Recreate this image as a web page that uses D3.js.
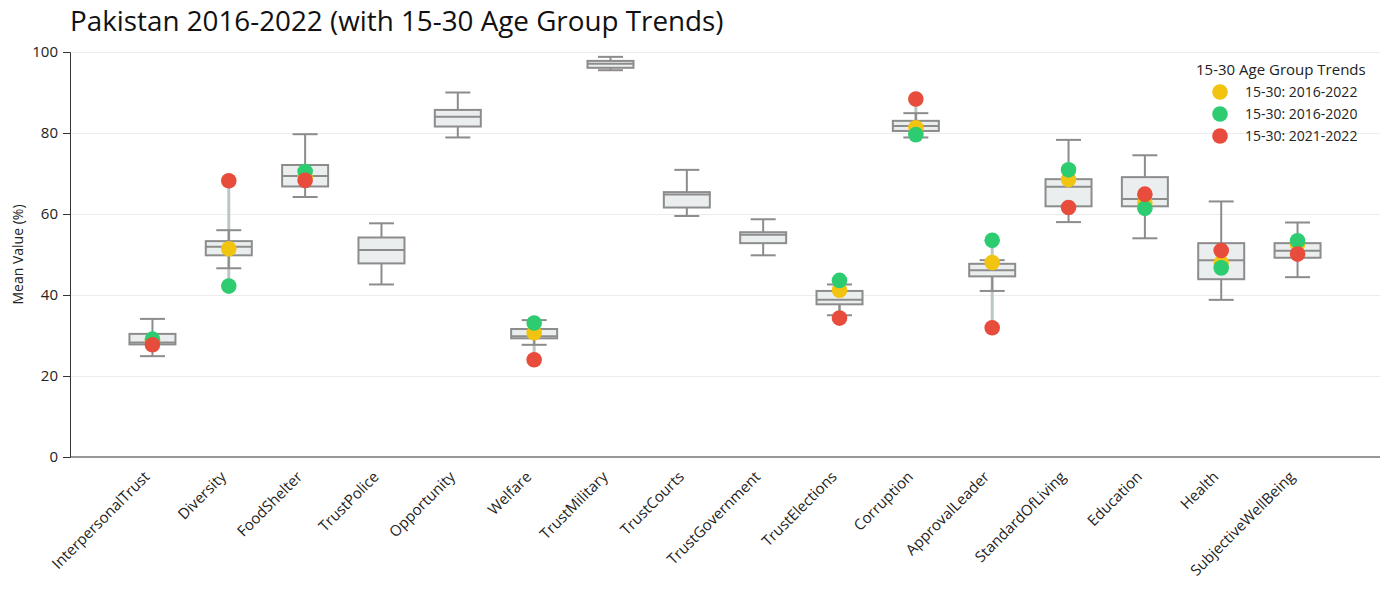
<!DOCTYPE html>
<html>
<head>
<meta charset="utf-8">
<script src="https://cdn.jsdelivr.net/npm/d3@7"></script>
<style>
  body { margin: 0; background: #fff; font-family: "Open Sans", sans-serif; }
  .grid line { stroke: #ececec; }
  .grid .domain { display: none; }
  .y-axis text, .x-axis text { fill: #222; }
</style>
</head>
<body>
<div id="chart"></div>
<script>
// Categories and box statistics
const categories = ["InterpersonalTrust", "Diversity", "FoodShelter", "TrustPolice", "Opportunity",
  "Welfare", "TrustMilitary", "TrustCourts", "TrustGovernment", "TrustElections", "Corruption",
  "ApprovalLeader", "StandardOfLiving", "Education", "Health", "SubjectiveWellBeing"];
const whiskerLow = [24.9, 46.6, 64.2, 42.6, 78.9, 27.7, 95.5, 59.5, 49.8, 35.0, 78.9, 41.0, 58.0, 54.0, 38.8, 44.4];
const q1 =         [27.8, 49.8, 66.8, 47.8, 81.6, 29.3, 96.1, 61.6, 52.8, 37.7, 80.5, 44.6, 61.9, 61.9, 43.9, 49.2];
const median =     [28.3, 51.9, 69.4, 51.1, 84.0, 29.8, 97.1, 64.8, 54.9, 38.8, 81.7, 46.1, 66.7, 63.7, 48.6, 50.9];
const q3 =         [30.4, 53.3, 72.1, 54.2, 85.7, 31.6, 97.8, 65.4, 55.5, 41.0, 83.0, 47.7, 68.6, 69.1, 52.8, 52.8];
const whiskerHigh =[34.1, 56.0, 79.7, 57.7, 90.0, 33.8, 98.8, 70.9, 58.7, 42.6, 84.9, 48.6, 78.3, 74.5, 63.1, 57.9];

// 15-30 age group trend values (null = not shown)
const trend2016_2022 = [28.5, 51.4, 69.0, null, null, 30.7, null, null, null, 41.2, 81.3, 48.0, 68.5, 62.7, 47.9, 52.5];
const trend2016_2020 = [29.1, 42.2, 70.5, null, null, 33.1, null, null, null, 43.6, 79.6, 53.5, 70.9, 61.4, 46.7, 53.4];
const trend2021_2022 = [27.7, 68.2, 68.3, null, null, 24.0, null, null, null, 34.3, 88.4, 31.9, 61.6, 64.9, 51.0, 50.1];

const seriesNames = ["15-30: 2016-2022", "15-30: 2016-2020", "15-30: 2021-2022"];
const seriesColors = ["#f1c40f", "#2ecc71", "#e74c3c"];
const yTicks = [0, 20, 40, 60, 80, 100];

const width = 1389, height = 590;
const margin = { top: 52, right: 9, bottom: 133, left: 70 };
const innerW = width - margin.left - margin.right;
const innerH = height - margin.top - margin.bottom;

const svg = d3.select("#chart").append("svg")
  .attr("width", width).attr("height", height);

svg.append("text")
  .attr("x", 70).attr("y", 31)
  .attr("font-size", 27.8)
  .attr("fill", "#111")
  .text("Pakistan 2016-2022 (with 15-30 Age Group Trends)");

const g = svg.append("g").attr("transform", `translate(${margin.left},${margin.top})`);

const x = d3.scalePoint().domain(categories).range([0, innerW]).padding(1.08);
const y = d3.scaleLinear().domain([0, 100]).range([innerH, 0]);

// grid
g.append("g").attr("class", "grid")
  .call(d3.axisLeft(y).tickValues(yTicks.slice(1)).tickSize(-innerW).tickFormat(""));

// y axis
const yAxis = g.append("g").attr("class", "y-axis")
  .call(d3.axisLeft(y).tickValues(yTicks).tickSize(7).tickPadding(5));
yAxis.selectAll("text").attr("font-size", 15).attr("font-family", "Open Sans");
yAxis.selectAll("line, path").attr("stroke", "#333");

g.append("text")
  .attr("transform", "rotate(-90)")
  .attr("x", -innerH / 2).attr("y", -47)
  .attr("text-anchor", "middle")
  .attr("font-size", 14)
  .attr("fill", "#222")
  .text("Mean Value (%)");

// x axis
const xAxis = g.append("g").attr("class", "x-axis")
  .attr("transform", `translate(0,${innerH})`)
  .call(d3.axisBottom(x).tickSize(0));
xAxis.select(".domain").attr("stroke", "#333").attr("d", `M0,0H${innerW}`);
xAxis.selectAll("text")
  .attr("font-size", 15)
  .attr("font-family", "Open Sans")
  .attr("text-anchor", "end")
  .attr("x", 0).attr("y", 0)
  .attr("dy", "0.35em")
  .attr("transform", "translate(-6,17) rotate(-45)");

const boxW = 46, capW = 25;
const rows = categories.map((c, i) => ({
  c, lo: whiskerLow[i], q1: q1[i], med: median[i], q3: q3[i], hi: whiskerHigh[i],
  trends: [trend2016_2022[i], trend2016_2020[i], trend2021_2022[i]]
}));

// connecting range line for trend points
rows.filter(d => d.trends[0] !== null).forEach(d => {
  const vals = d.trends.filter(v => v !== null);
  g.append("line")
    .attr("x1", x(d.c)).attr("x2", x(d.c))
    .attr("y1", y(d3.min(vals))).attr("y2", y(d3.max(vals)))
    .attr("stroke", "#bdc6c6").attr("stroke-width", 3);
});

const box = g.selectAll("g.box").data(rows).join("g").attr("class", "box")
  .attr("transform", d => `translate(${x(d.c)},0)`);

const stroke = "#8c8c8c";
box.append("line").attr("y1", d => y(d.hi)).attr("y2", d => y(d.q3))
  .attr("stroke", stroke).attr("stroke-width", 2);
box.append("line").attr("y1", d => y(d.q1)).attr("y2", d => y(d.lo))
  .attr("stroke", stroke).attr("stroke-width", 2);
box.append("line").attr("x1", -capW / 2).attr("x2", capW / 2)
  .attr("y1", d => y(d.hi)).attr("y2", d => y(d.hi))
  .attr("stroke", stroke).attr("stroke-width", 2);
box.append("line").attr("x1", -capW / 2).attr("x2", capW / 2)
  .attr("y1", d => y(d.lo)).attr("y2", d => y(d.lo))
  .attr("stroke", stroke).attr("stroke-width", 2);
box.append("rect")
  .attr("x", -boxW / 2).attr("width", boxW)
  .attr("y", d => y(d.q3)).attr("height", d => y(d.q1) - y(d.q3))
  .attr("fill", "#ebeeef").attr("stroke", stroke).attr("stroke-width", 2);
box.append("line").attr("x1", -boxW / 2).attr("x2", boxW / 2)
  .attr("y1", d => y(d.med)).attr("y2", d => y(d.med))
  .attr("stroke", stroke).attr("stroke-width", 2);

// trend dots: yellow, then green, then red on top
seriesNames.forEach((name, s) => {
  g.selectAll(`circle.s${s}`)
    .data(rows.filter(d => d.trends[s] !== null))
    .join("circle")
    .attr("class", `s${s}`)
    .attr("cx", d => x(d.c))
    .attr("cy", d => y(d.trends[s]))
    .attr("r", 7.8)
    .attr("fill", seriesColors[s]);
});

// legend
const legend = svg.append("g").attr("transform", "translate(1196,75)");
legend.append("text").attr("x", 0).attr("y", 0)
  .attr("font-size", 15).attr("fill", "#222").text("15-30 Age Group Trends");
seriesNames.forEach((name, s) => {
  const row = legend.append("g").attr("transform", `translate(0,${17 + s * 22})`);
  row.append("circle").attr("cx", 24).attr("cy", 0).attr("r", 7.8).attr("fill", seriesColors[s]);
  row.append("text").attr("x", 49).attr("y", 5)
    .attr("font-size", 14).attr("fill", "#222").text(name);
});
</script>
</body>
</html>
